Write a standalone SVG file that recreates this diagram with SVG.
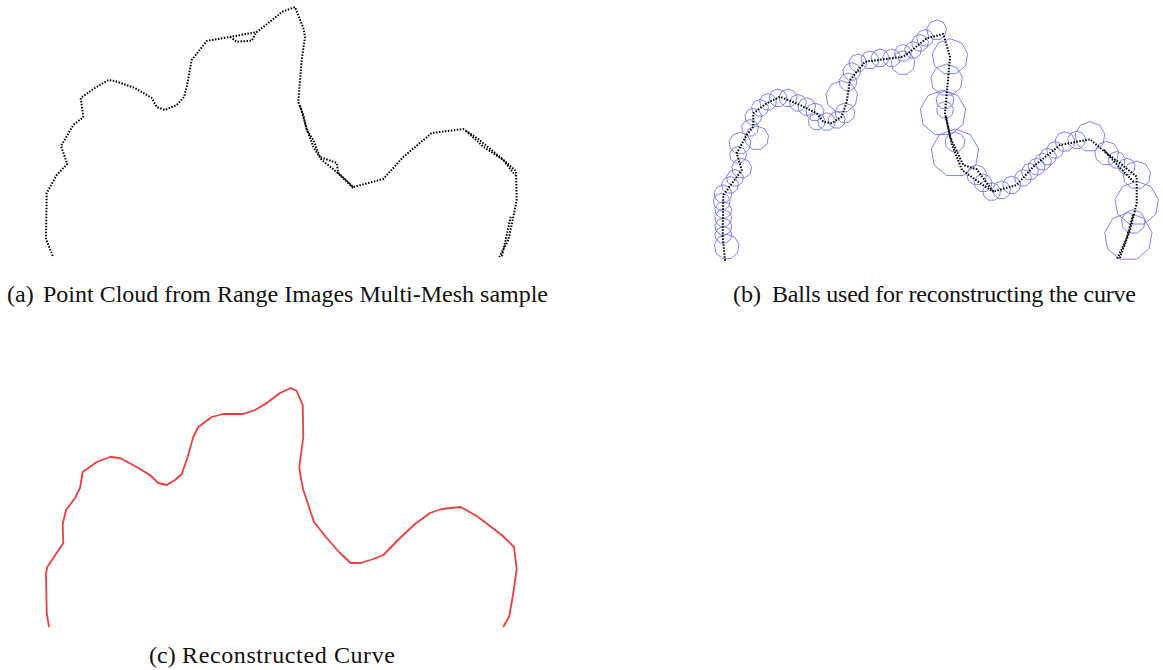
<svg xmlns="http://www.w3.org/2000/svg" xmlns:xlink="http://www.w3.org/1999/xlink" width="1163" height="670" viewBox="0 0 1163 670">
<style>
.dots{fill:none;stroke:#000;stroke-width:2;stroke-dasharray:1.5 1.5;stroke-linejoin:round}
.ball{fill:none;stroke:#7474f2;stroke-width:0.9}
.red{fill:none;stroke:#f43b3b;stroke-width:1.8;stroke-linejoin:round}
.cap{font-family:"Liberation Serif","Times New Roman",serif;font-size:24px;fill:#111}
</style>
<defs>
<path id="ng" class="ball" vector-effect="non-scaling-stroke" d="M0,-1 L0.643,-0.766 L0.985,-0.174 L0.866,0.5 L0.342,0.94 L-0.342,0.94 L-0.866,0.5 L-0.985,-0.174 L-0.643,-0.766 Z"/>
</defs>
<rect width="1163" height="670" fill="#fff"/>

<g id="panel-a">
<path class="dots" d="M52.7,256 L46,239 L46.7,193 L56.7,175 L67.3,164 L61,146 L73.3,125 L83.3,117 L80.7,98 L93.3,89 L108.3,80 L115,81 L135,88 L151.7,98 L156.7,107 L165,110 L176.7,105 L184,97 L186.7,87 L191.7,60 L206.7,41 L230,37 L256.7,32 L263.3,27 L278.3,15 L281.7,12 L295,7 L303.3,28 L305,37 L301.7,60 L298.3,102 L303.3,115 L306.7,130 L313.3,140 L320,157 L336.7,163 L338.3,173 L353.3,187 L383.3,179 L403.3,157 L431.7,133 L463.3,129 L478.3,139 L500,157 L516,171 L516.7,200 L512.7,220 L508.3,240 L499.3,257"/>
<path class="dots" d="M230,37 L236.7,41.7 L251.7,40.7 L256.7,31.7"/>
<path class="dots" d="M300,106 L305,123 L308.3,133 L313.3,147 L321.7,160 L336.7,172 L353.3,188"/>
<path class="dots" d="M466,131 L483.3,146.7 L503.3,160 L515,175"/>
<path class="dots" d="M510.7,216.7 L505,243 L501.7,256.7"/>
<text class="cap" x="7" y="302">(a)<tspan x="43" textLength="505" lengthAdjust="spacing">Point Cloud from Range Images Multi-Mesh sample</tspan></text>
</g>

<g id="panel-b">
<g id="balls">
<use xlink:href="#ng" transform="translate(726.7 246.7) scale(12.5)"/>
<use xlink:href="#ng" transform="translate(723.3 235) scale(8.5)"/>
<use xlink:href="#ng" transform="translate(723.3 226.7) scale(8.5)"/>
<use xlink:href="#ng" transform="translate(723.3 218.3) scale(8.5)"/>
<use xlink:href="#ng" transform="translate(723.3 210) scale(8.5)"/>
<use xlink:href="#ng" transform="translate(721.7 201.7) scale(8.5)"/>
<use xlink:href="#ng" transform="translate(723 194) scale(9)"/>
<use xlink:href="#ng" transform="translate(730 185) scale(8.5)"/>
<use xlink:href="#ng" transform="translate(735 178) scale(8.5)"/>
<use xlink:href="#ng" transform="translate(741.7 168.3) scale(10)"/>
<use xlink:href="#ng" transform="translate(738 155) scale(8.5)"/>
<use xlink:href="#ng" transform="translate(740 143.3) scale(11)"/>
<use xlink:href="#ng" transform="translate(756.7 138) scale(12)"/>
<use xlink:href="#ng" transform="translate(750 128) scale(8.5)"/>
<use xlink:href="#ng" transform="translate(753.3 116.7) scale(8.5)"/>
<use xlink:href="#ng" transform="translate(760 108) scale(8.5)"/>
<use xlink:href="#ng" transform="translate(768 102) scale(8.5)"/>
<use xlink:href="#ng" transform="translate(778 98) scale(9)"/>
<use xlink:href="#ng" transform="translate(788 98) scale(9)"/>
<use xlink:href="#ng" transform="translate(798 103) scale(8.5)"/>
<use xlink:href="#ng" transform="translate(806.7 106.7) scale(9)"/>
<use xlink:href="#ng" transform="translate(815 112) scale(9)"/>
<use xlink:href="#ng" transform="translate(816.7 121.7) scale(8.5)"/>
<use xlink:href="#ng" transform="translate(826.7 121.7) scale(9)"/>
<use xlink:href="#ng" transform="translate(836.7 120) scale(8.5)"/>
<use xlink:href="#ng" transform="translate(845 113) scale(10)"/>
<use xlink:href="#ng" transform="translate(841.7 96.7) scale(16)"/>
<use xlink:href="#ng" transform="translate(848 82) scale(9)"/>
<use xlink:href="#ng" transform="translate(851.7 71.7) scale(9)"/>
<use xlink:href="#ng" transform="translate(858 63) scale(9)"/>
<use xlink:href="#ng" transform="translate(870 60) scale(9)"/>
<use xlink:href="#ng" transform="translate(880 58) scale(9)"/>
<use xlink:href="#ng" transform="translate(891.7 58) scale(9)"/>
<use xlink:href="#ng" transform="translate(903 63) scale(12)"/>
<use xlink:href="#ng" transform="translate(903 53) scale(8.5)"/>
<use xlink:href="#ng" transform="translate(913 50) scale(8.5)"/>
<use xlink:href="#ng" transform="translate(920 43) scale(8.5)"/>
<use xlink:href="#ng" transform="translate(925 38) scale(8.5)"/>
<use xlink:href="#ng" transform="translate(936.7 30) scale(10)"/>
<use xlink:href="#ng" transform="translate(950 56.7) scale(18)"/>
<use xlink:href="#ng" transform="translate(946.7 80) scale(16)"/>
<use xlink:href="#ng" transform="translate(945 100) scale(9)"/>
<use xlink:href="#ng" transform="translate(945 110) scale(8.5)"/>
<use xlink:href="#ng" transform="translate(943 113) scale(23)"/>
<use xlink:href="#ng" transform="translate(955 142) scale(10)"/>
<use xlink:href="#ng" transform="translate(955 153) scale(24)"/>
<use xlink:href="#ng" transform="translate(976.7 175) scale(10)"/>
<use xlink:href="#ng" transform="translate(983 183) scale(9)"/>
<use xlink:href="#ng" transform="translate(991.7 191.7) scale(9)"/>
<use xlink:href="#ng" transform="translate(1001.7 190) scale(9)"/>
<use xlink:href="#ng" transform="translate(1011.7 185) scale(9)"/>
<use xlink:href="#ng" transform="translate(1023 178) scale(8.5)"/>
<use xlink:href="#ng" transform="translate(1030 171.7) scale(8.5)"/>
<use xlink:href="#ng" transform="translate(1036.7 166.7) scale(8.5)"/>
<use xlink:href="#ng" transform="translate(1043 161.7) scale(8.5)"/>
<use xlink:href="#ng" transform="translate(1048 156.7) scale(8.5)"/>
<use xlink:href="#ng" transform="translate(1055 150) scale(8.5)"/>
<use xlink:href="#ng" transform="translate(1065 141.7) scale(10)"/>
<use xlink:href="#ng" transform="translate(1076.7 140) scale(9)"/>
<use xlink:href="#ng" transform="translate(1090 136.7) scale(15)"/>
<use xlink:href="#ng" transform="translate(1106.7 153.3) scale(12)"/>
<use xlink:href="#ng" transform="translate(1116.7 160) scale(8.5)"/>
<use xlink:href="#ng" transform="translate(1126.7 166.7) scale(8.5)"/>
<use xlink:href="#ng" transform="translate(1136.7 175) scale(14)"/>
<use xlink:href="#ng" transform="translate(1136.7 203.3) scale(22)"/>
<use xlink:href="#ng" transform="translate(1133.3 221.7) scale(12)"/>
<use xlink:href="#ng" transform="translate(1128.3 236.7) scale(24)"/>
</g>
<path class="dots" d="M725,260.7 L722.7,236.7 L723.3,195 L733.3,181.7 L741.7,170 L736.7,153.3 L746.7,135 L753.3,126.7 L753.3,113.3 L766.7,103.3 L780,96.7 L800,105 L816.7,113.3 L823.3,121.7 L831.7,123.3 L841.7,116.7 L846.7,101.7 L850,80 L865,61.7 L883.3,59.3 L903.3,56.7 L910,51.7 L926.7,38.3 L943.3,34 L950,56.7 L948.3,76.7 L945,113.3 L950,136.7 L963.3,165 L976.7,169.3 L993.3,191.7 L1016.7,185 L1033.3,166.7 L1060,145 L1090,139.3 L1106.7,153.3 L1120,163.3 L1136.7,176.7 L1136.7,203.3 L1130,230 L1119.3,259.3"/>
<path class="dots" d="M946,117 L952,145 L962,170 L980,183 L993.3,191.7"/>
<path class="dots" d="M1104,150 L1120,168 L1134,182"/>
<path class="dots" d="M1133,215 L1126,240 L1117,259"/>
<text class="cap" x="733" y="302">(b)<tspan x="772" textLength="364" lengthAdjust="spacing">Balls used for reconstructing the curve</tspan></text>
</g>

<g id="panel-c">
<path class="red" d="M49,627 L46.7,613 L46,573 L47.3,567 L63.3,543 L62.7,524 L66,510 L75,498 L80,488 L82.7,472 L96.7,462 L110,457 L120,458 L136.7,467 L150,475 L158.3,483 L166.7,485 L175,480 L181.7,474 L187.3,458 L193.3,437 L198.3,427 L211.7,417 L223.3,414 L243.3,414 L255,410 L266.7,403 L280,393 L290.7,388 L296.7,391 L302.7,405 L303.3,437 L299.3,467 L300.7,477 L303.3,490 L314,522 L326.7,538 L340,553 L350.7,563 L360.7,563 L373.3,559 L383.3,555 L400,538 L415,524 L430,513 L441.7,509 L460.7,507 L476.7,516 L501.7,535 L514,547 L516.7,569 L513.3,593 L509.3,616 L503.3,627"/>
<text class="cap" x="149" y="663">(c)<tspan x="182" textLength="213" lengthAdjust="spacing">Reconstructed Curve</tspan></text>
</g>
</svg>
